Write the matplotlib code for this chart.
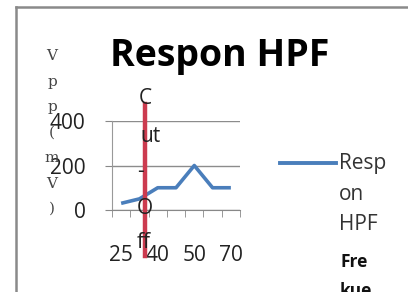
import numpy as np
import matplotlib.pyplot as plt
from matplotlib.lines import Line2D

# data
kategori = ["25", "30", "40", "45", "50", "60", "70"]
respon = [30, 50, 100, 100, 200, 100, 100]
label_x = ["25", "", "40", "", "50", "", "70"]
y_ticks = [0, 200, 400]
cutoff_pos = 1.28          # posisi garis cut-off (indeks kategori)
cutoff_range = [-205, 475]  # rentang garis merah (mV)

W, H = 408, 292
fig = plt.figure(figsize=(W / 100, H / 100), dpi=100)
fig.patch.set_facecolor("white")
plt.rcParams['font.family'] = ['Open Sans', 'DejaVu Sans']

def fx(px):
    return px / W

def fy(py):
    return 1 - py / H

# bingkai chart
fig.add_artist(Line2D([fx(16), 1], [fy(7), fy(7)], color="#8a8a8a", lw=1.8))
fig.add_artist(Line2D([fx(16), fx(16)], [fy(7), 0], color="#8a8a8a", lw=1.8))

ax = fig.add_axes([fx(112), fy(210), fx(240) - fx(112), (210 - 121) / H])
x = np.arange(len(kategori))
ax.plot(x, respon, color="#4a7ebb", lw=2.6, solid_capstyle="butt")
ax.plot([cutoff_pos, cutoff_pos], cutoff_range, color="#cc3b4f", lw=3.2,
        clip_on=False, zorder=5)

ax.set_xlim(-0.5, len(kategori) - 0.5)
ax.set_ylim(0, 400)
ax.set_yticks(y_ticks)
ax.set_yticklabels([str(v) for v in y_ticks])
ax.set_xticks(x)
ax.set_xticklabels(label_x)
ax.set_xticks(np.arange(len(kategori) + 1) - 0.5, minor=True)
ax.tick_params(axis="x", which="major", length=0, pad=25, labelsize=15,
               labelcolor="#222222")
ax.tick_params(axis="x", which="minor", length=5, color="#888888")
ax.tick_params(axis="y", length=5, color="#888888", pad=14, labelsize=15,
               labelcolor="#222222")
ax.grid(axis="y", color="#8c8c8c", lw=1)
for s in ["top", "right"]:
    ax.spines[s].set_visible(False)
ax.spines["left"].set_color("#999999")
ax.spines["bottom"].set_color("#888888")
ax.set_axisbelow(True)

# judul
fig.text(fx(220), fy(56), "Respon HPF", ha="center", va="center",
         fontsize=27, fontweight="bold", color="black")

# label sumbu y (satu huruf per baris)
for i, ch in enumerate(["V", "p", "p", "(", "m", "V", ")"]):
    fig.text(fx(52), fy(56 + i * 25.5), ch, ha="center", va="center",
             fontsize=11, color="#444444", family="DejaVu Serif")

# teks cut-off
for ch, px, py in [("C", 145, 98), ("ut", 150, 136), ("-", 141, 172),
                   ("O", 145, 208), ("ff", 144, 243)]:
    fig.text(fx(px), fy(py), ch, ha="center", va="center", fontsize=15,
             color="#222222", zorder=6)

# legenda
fig.add_artist(Line2D([fx(280), fx(336)], [fy(163), fy(163)],
                      color="#4a7ebb", lw=2.8))
for i, t in enumerate(["Resp", "on", "HPF"]):
    fig.text(fx(339), fy(163 + i * 31), t, ha="left", va="center",
             fontsize=15, color="#333333")

# judul sumbu x (terpotong)
for i, t in enumerate(["Fre", "kue"]):
    fig.text(fx(340), fy(262 + i * 29), t, ha="left", va="center",
             fontsize=12.5, fontweight="bold", color="#111111")

fig.savefig("out.png", dpi=100)
